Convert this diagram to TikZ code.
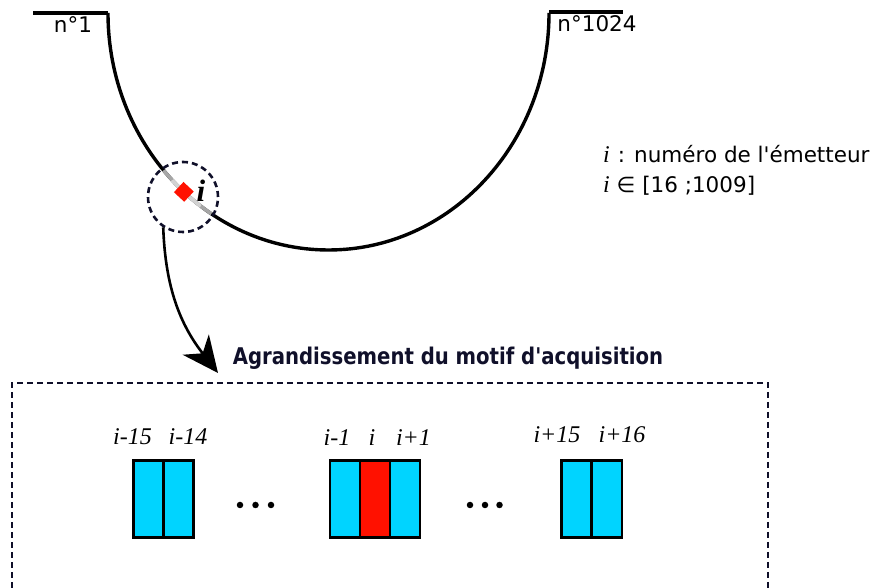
\documentclass[tikz,border=0pt]{standalone}
\usepackage{fontspec}
\setmainfont{DejaVu Sans}[Ligatures=TeXOff]
\newfontfamily\tnr{Liberation Serif}
\usetikzlibrary{arrows.meta,calc}
\definecolor{cyanbox}{HTML}{00D4FF}
\definecolor{redbox}{HTML}{FF1100}
\definecolor{navy}{HTML}{10102A}
\tikzset{
  cell/.style={draw=black, line width=2.7pt, minimum width=30pt, minimum height=77pt, inner sep=0pt, anchor=south west},
  bluecell/.style={cell, fill=cyanbox},
  redcell/.style={cell, fill=redbox},
  idx/.style={font=\tnr\itshape\fontsize{24}{28}\selectfont, anchor=base, inner sep=0pt},
  sans/.style={font=\fontsize{21.5}{25}\selectfont, inner sep=0pt},
  legend/.style={font=\fontsize{21.5}{26}\selectfont, inner sep=0pt, anchor=base west},
  dotn/.style={circle, fill=black, minimum size=6.5pt, inner sep=0pt},
}
\begin{document}
\begin{tikzpicture}[x=1pt,y=1pt]
\useasboundingbox (0,0) rectangle (877,588);
% top lines and semi-ellipse
\coordinate (L) at (108,575);
\coordinate (R) at (549,576);
\coordinate (Lend) at (33,575);
\coordinate (Rend) at (623,576);
\draw[line width=3.4pt] (Lend) -- (L);
\draw[line width=3.4pt] (R) -- (Rend);
\draw[line width=3.4pt] (L) arc[start angle=180, end angle=360, x radius=220.5, y radius=237];
\node[sans, anchor=base] (n1) at (73,555) {n°1};
\node[sans, anchor=base] (n1024) at (597,556) {n°1024};
% zoom circle
\coordinate (ec) at (328.5,575);
\begin{scope}
  \clip (183,391) circle (33);
  \draw[line width=3.6pt, gray!70] ($(ec)+(205:220.5 and 237)$) arc[start angle=205, end angle=255, x radius=220.5, y radius=237];
\end{scope}
\begin{scope}
  \clip (183,391) circle (20);
  \draw[line width=3.6pt, gray!35] ($(ec)+(205:220.5 and 237)$) arc[start angle=205, end angle=255, x radius=220.5, y radius=237];
\end{scope}
\node[circle, draw=navy, line width=2.6pt, dash pattern=on 6pt off 4pt, minimum size=70pt, inner sep=0pt] (zc) at (183,391) {};
\node[fill=redbox, minimum size=14pt, inner sep=0pt, rotate=-43] (em) at ($(ec)+(229:220.5 and 237)$) {};
\node[font=\tnr\bfseries\itshape\fontsize{31}{33}\selectfont, inner sep=0pt] (ilab) at (201,397) {i};
% legend
\node[legend] (leg1) at (603,425) {{\tnr\itshape\fontsize{24}{26}\selectfont i}\hspace{8pt}: numéro de l'émetteur};
\node[legend] (leg2) at (603,395) {{\tnr\itshape\fontsize{24}{26}\selectfont i} ∈ [16 ;1009]};
% arrow
\coordinate (tip) at (218,215);
\draw[line width=2.6pt, -{Stealth[length=36pt,width=33pt,inset=11pt]}] (zc.237) to[out=-88, in=128] (tip);
% title
\node[font=\bfseries\fontsize{23}{27}\selectfont, text=navy, anchor=base, inner sep=0pt] (title) at (448,223) {\scalebox{0.855}[1]{Agrandissement du motif d'acquisition}};
% dashed box (open at bottom)
\coordinate (b1) at (12,-10);
\coordinate (b2) at (12,205);
\coordinate (b3) at (768,205);
\coordinate (b4) at (768,-10);
\draw[navy, line width=2.6pt, dash pattern=on 6pt off 4pt] (b1) -- (b2) -- (b3) -- (b4);
% group 1
\node[bluecell] (c1) at (132,49) {};
\node[bluecell] (c2) at (162,49) {};
% group 2
\node[bluecell] (c3) at (328.5,49) {};
\node[redcell] (c4) at (358.5,49) {};
\node[bluecell] (c5) at (388.5,49) {};
% group 3
\node[bluecell] (c6) at (560,49) {};
\node[bluecell] (c7) at (590.5,49) {};
% labels
\node[idx] (l1) at (132.5,143) {i-15};
\node[idx] (l2) at (188,143) {i-14};
\node[idx] (l3) at (337,142) {i-1};
\node[idx] (l4) at (372,142) {i};
\node[idx] (l5) at (413.5,142) {i+1};
\node[idx] (l6) at (557,145) {i+15};
\node[idx] (l7) at (622,145) {i+16};
% dots
\node[dotn] (d1) at (240,83) {};
\node[dotn] (d2) at (255.5,83) {};
\node[dotn] (d3) at (271,83) {};
\node[dotn] (d4) at (470,83) {};
\node[dotn] (d5) at (485,83) {};
\node[dotn] (d6) at (499.5,83) {};
\end{tikzpicture}
\end{document}
